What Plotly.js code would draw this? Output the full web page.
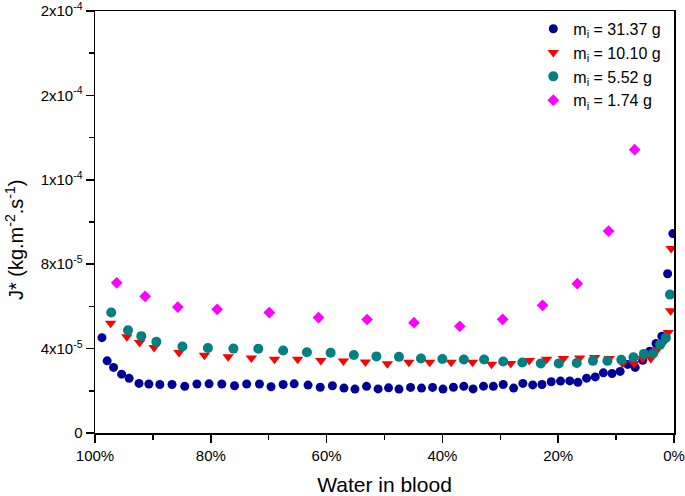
<!DOCTYPE html>
<html>
<head>
<meta charset="utf-8">
<script src="https://cdn.plot.ly/plotly-3.0.1.min.js"></script>
<style>html,body{margin:0;padding:0;background:#fff;}#chart{width:685px;height:496px;}</style>
</head>
<body>
<div id="chart"></div>
<script>
// Series: mi = 31.37 g
const water3137 = [98.8,97.9,96.8,95.4,94.1,92.4,90.7,88.8,86.7,84.5,82.4,80.3,78.1,75.9,73.8,71.6,69.6,67.5,65.6,63.2,61.1,59.0,57.0,55.1,53.1,51.1,49.3,47.5,45.5,43.6,41.7,39.9,38.1,36.3,34.7,32.9,31.2,29.5,27.7,26.1,24.4,22.8,21.2,19.6,18.0,16.6,15.1,13.6,12.2,10.7,9.3,8.0,6.7,5.4,4.2,3.1,2.1,1.1,0.2];
const flux3137 = [4.52e-5,3.42e-5,3.11e-5,2.79e-5,2.59e-5,2.35e-5,2.32e-5,2.30e-5,2.30e-5,2.21e-5,2.32e-5,2.33e-5,2.32e-5,2.24e-5,2.32e-5,2.32e-5,2.19e-5,2.30e-5,2.33e-5,2.27e-5,2.17e-5,2.24e-5,2.13e-5,2.08e-5,2.21e-5,2.09e-5,2.14e-5,2.08e-5,2.16e-5,2.13e-5,2.16e-5,2.08e-5,2.17e-5,2.21e-5,2.09e-5,2.22e-5,2.21e-5,2.30e-5,2.13e-5,2.35e-5,2.28e-5,2.30e-5,2.43e-5,2.46e-5,2.47e-5,2.40e-5,2.60e-5,2.66e-5,2.85e-5,2.82e-5,2.92e-5,3.25e-5,3.11e-5,3.45e-5,3.88e-5,4.24e-5,4.59e-5,7.55e-5,9.45e-5];

// Series: mi = 10.10 g
const water1010 = [97.3,94.5,92.3,89.8,85.5,81.1,77.0,73.0,69.0,65.0,61.0,57.1,53.3,49.5,45.8,42.2,38.5,34.8,31.5,28.2,25.0,22.0,19.1,16.3,13.7,11.2,8.9,6.9,5.4,4.0,2.9,1.8,1.0,0.6,0.5];
const flux1010 = [5.20e-5,4.56e-5,4.29e-5,4.05e-5,3.82e-5,3.69e-5,3.61e-5,3.55e-5,3.49e-5,3.50e-5,3.44e-5,3.41e-5,3.37e-5,3.28e-5,3.35e-5,3.35e-5,3.35e-5,3.35e-5,3.26e-5,3.30e-5,3.44e-5,3.50e-5,3.53e-5,3.56e-5,3.58e-5,3.53e-5,3.30e-5,3.30e-5,3.53e-5,3.53e-5,3.94e-5,4.29e-5,4.76e-5,5.79e-5,8.75e-5];

// Series: mi = 5.52 g
const water552 = [97.2,94.3,92.0,89.4,84.9,80.5,76.1,71.8,67.5,63.4,59.3,55.3,51.4,47.5,43.7,40.0,36.3,32.8,29.5,26.2,23.0,19.9,16.8,14.0,11.5,9.1,7.0,5.2,3.6,2.4,1.4,0.7];
const flux552 = [5.71e-5,4.87e-5,4.59e-5,4.32e-5,4.10e-5,4.03e-5,4.00e-5,3.99e-5,3.91e-5,3.83e-5,3.80e-5,3.70e-5,3.63e-5,3.61e-5,3.53e-5,3.51e-5,3.48e-5,3.48e-5,3.39e-5,3.34e-5,3.30e-5,3.30e-5,3.32e-5,3.42e-5,3.42e-5,3.47e-5,3.59e-5,3.75e-5,3.77e-5,4.19e-5,4.52e-5,6.56e-5];

// Series: mi = 1.74 g
const water174 = [96.25,91.35,85.7,78.9,69.9,61.4,53.0,44.9,37.0,29.6,22.7,16.7,11.3,6.8];
const flux174 = [7.12e-5,6.48e-5,5.97e-5,5.86e-5,5.71e-5,5.47e-5,5.38e-5,5.23e-5,5.06e-5,5.39e-5,6.05e-5,7.08e-5,9.57e-5,1.343e-4];

const seriesNames = ['m<sub>i</sub> = 31.37 g','m<sub>i</sub> = 10.10 g','m<sub>i</sub> = 5.52 g','m<sub>i</sub> = 1.74 g'];

const yTickVals = [0,4e-5,8e-5,1.2e-4,1.6e-4,2e-4];
const yTickText = ['0','4x10<sup>-5</sup>','8x10<sup>-5</sup>','1x10<sup>-4</sup>','2x10<sup>-4</sup>','2x10<sup>-4</sup>'];
const yMinorVals = [2e-5,6e-5,1e-4,1.4e-4,1.8e-4];
const yTitle = 'J* (kg.m<sup>-2</sup>.s<sup>-1</sup>)';
const xTitle = 'Water in blood';

const font = 'Liberation Sans, Arial, sans-serif';

const traces = [
  {x: water3137, y: flux3137, name: seriesNames[0], type:'scatter', mode:'markers',
   marker:{symbol:'circle', size:9, color:'#000099'}},
  {x: water1010, y: flux1010, name: seriesNames[1], type:'scatter', mode:'markers',
   marker:{symbol:'triangle-down', size:10, color:'#ff0000'}},
  {x: water552, y: flux552, name: seriesNames[2], type:'scatter', mode:'markers',
   marker:{symbol:'circle', size:10, color:'#008080'}},
  {x: water174, y: flux174, name: seriesNames[3], type:'scatter', mode:'markers',
   marker:{symbol:'diamond', size:9, color:'#ff00ff'}}
];

const layout = {
  width:685, height:496,
  margin:{l:95, r:11, t:11, b:63},
  paper_bgcolor:'#fff', plot_bgcolor:'#fff',
  font:{family:font, size:14, color:'#000'},
  showlegend:true,
  legend:{x:0.757, y:0.998, xanchor:'left', yanchor:'top', bgcolor:'rgba(0,0,0,0)',
          font:{family:font, size:16, color:'#000'}, tracegroupgap:0},
  xaxis:{
    range:[100,0], autorange:false,
    tickmode:'linear', tick0:0, dtick:20, ticksuffix:'%',
    ticks:'outside', ticklen:8, tickwidth:1.5, tickcolor:'#000',
    minor:{dtick:10, tick0:0, ticks:'outside', ticklen:5, tickwidth:1.5, tickcolor:'#000'},
    showline:true, linewidth:1.5, linecolor:'#000', mirror:true,
    showgrid:false, zeroline:false, ticklabeloverflow:'allow',
    tickfont:{family:font, size:15, color:'#000'},
    title:{text:xTitle, font:{family:font, size:21, color:'#000'}, standoff:16}
  },
  yaxis:{
    range:[0,2.0002e-4], autorange:false,
    tickmode:'array', tickvals:yTickVals, ticktext:yTickText,
    ticks:'outside', ticklen:8, tickwidth:1.5, tickcolor:'#000',
    minor:{tickmode:'array', tickvals:yMinorVals, ticks:'outside', ticklen:5, tickwidth:1.5, tickcolor:'#000'},
    showline:true, linewidth:1.5, linecolor:'#000', mirror:true,
    showgrid:false, zeroline:false, ticklabeloverflow:'allow',
    tickfont:{family:font, size:15, color:'#000'}
  },
  annotations:[
    {text:yTitle, xref:'paper', yref:'paper', x:-0.14, y:0.457, xanchor:'center', yanchor:'middle',
     textangle:-90, showarrow:false, font:{family:font, size:20, color:'#000'}}
  ]
};

Plotly.newPlot('chart', traces, layout, {displayModeBar:false, staticPlot:true});
</script>
</body>
</html>
